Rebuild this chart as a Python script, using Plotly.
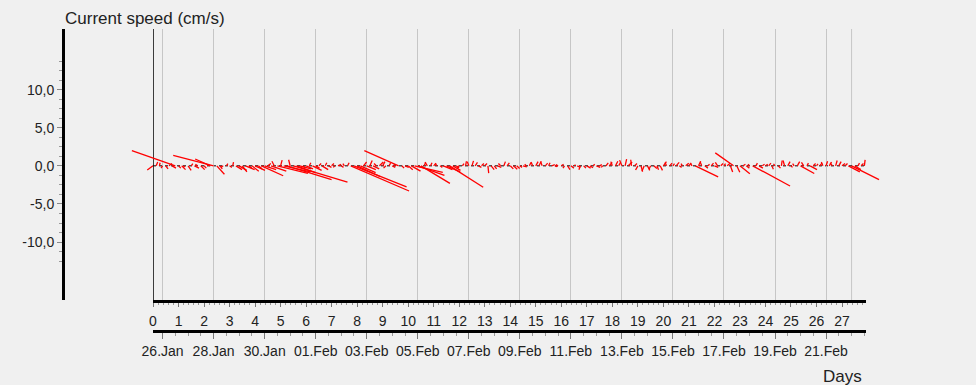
import plotly.graph_objects as go
from datetime import datetime, timedelta

# ---------------------------------------------------------------------------
# Current meter record: 3-hourly east / north components (cm/s)
# ---------------------------------------------------------------------------
START = datetime(2021, 1, 25, 15, 0)      # day 0 of the record
SAMPLE_HOURS = 3

EAST = [
    # day 0
    -0.75, 0.2, 0.1, -0.2, 0.3, 0.4, 0.5, -5.7,
    # day 1
    0.3, 0.5, -0.2, 0.4, 0.2, 0.6, -0.3, 0.5,
    # day 2
    0.3, 0.2, -2.0, -5.3, 1.0, 0.3, -0.3, 0.2,
    # day 3
    0.3, 0.1, 0.8, 1.0, 0.6, 1.2, 0.4, 0.9,
    # day 4
    1.3, 0.5, 2.85, 1.5, 0.4, 2.0, -0.3, 4.0,
    # day 5
    0.2, 3.5, 5.85, -0.2, 7.1, 2.5, 1.5, 0.3,
    # day 6
    0.9, 0.2, 1.2, 0.5, 0.3, 0.8, 0.2, 0.4,
    # day 7
    0.3, -0.2, 0.4, 0.3, -0.2, 0.2, 7.65, 6.9,
    # day 8
    3.0, 2.0, 0.4, 1.2, 0.3, 0.8, -0.3, 0.5,
    # day 9
    0.3, -0.3, 0.2, 0.4, -0.2, -4.5, 0.3, 0.5,
    # day 10
    0.6, 1.2, 3.7, 3.5, 3.8, 0.2, -0.3, 0.2,
    # day 11
    0.3, -0.2, 0.3, 1.2, 1.8, 4.4, 1.0, 0.4,
    # day 12
    -0.3, 0.2, 0.1, -0.2, 0.2, 0.3, 0.4, 0.3,
    # day 13
    0.3, 0.1, 0.4, 0.3, 0.5, -0.3, 0.2, 0.3,
    # day 14
    0.4, 0.5, 0.4, 0.3, 0.5, -0.2, 0.2, -0.2,
    # day 15
    0.3, 0.3, -0.2, 0.3, 0.2, 0.4, 0.3, -0.3,
    # day 16
    0.3, -0.2, 0.3, 0.4, 0.2, 0.4, -0.2, 0.3,
    # day 17
    0.5, 0.4, 0.2, 0.5, 0.3, -0.2, 0.3, 0.4,
    # day 18
    -0.2, 0.3, 0.2, -0.3, 0.2, 0.5, -0.1, 0.3,
    # day 19
    -0.3, 0.2, -0.3, 0.3, -0.2, 0.4, 0.2, 0.3,
    # day 20
    0.4, -0.2, 0.3, 0.2, 0.4, 0.3, -0.2, 0.4,
    # day 21
    0.3, -0.2, 3.0, 0.3, -0.2, 0.4, 0.2, 0.3,
    # day 22
    0.5, -0.3, 0.3, 0.2, 0.4, 0.3, -2.4, 0.4,
    # day 23
    1.3, 0.3, 0.4, -0.2, 4.9, 0.2, 0.5, 0.3,
    # day 24
    0.3, 0.3, 0.2, -0.2, 0.3, 0.1, -0.2, 0.3,
    # day 25
    0.2, -0.2, 0.3, 1.8, -0.3, 0.2, 0.9, 0.3,
    # day 26
    0.2, 0.3, -0.2, 0.2, 0.3, -0.3, 0.2, 0.3,
    # day 27
    0.4, 0.3, 1.5, 3.6, 0.8, 0.2, 0.3, 0.1,
]

NORTH = [
    # day 0
    -0.55, 0.5, 0.4, -0.3, -0.4, 0.3, -0.3, 2.0,
    # day 1
    -0.3, -0.5, -0.2, -0.6, 0.3, -0.3, 0.2, -0.5,
    # day 2
    -0.3, 0.2, 0.9, 1.36, -1.1, -0.4, -0.2, 0.3,
    # day 3
    -0.2, 0.5, -0.5, -0.6, -0.8, -0.5, -0.3, -0.7,
    # day 4
    -0.6, -0.4, -1.3, -0.5, 0.3, -0.7, 0.6, -1.0,
    # day 5
    0.75, -0.8, -1.8, 0.8, -2.15, -0.9, -0.4, -0.3,
    # day 6
    -0.4, 0.4, -0.6, -0.3, 0.3, -0.5, 0.4, -0.2,
    # day 7
    0.3, -0.2, 0.2, -0.2, 0.3, 0.4, -3.3, -2.75,
    # day 8
    -1.4, -0.9, 0.5, -0.5, 0.7, -0.4, 0.3, 0.5,
    # day 9
    0.55, -0.3, 0.35, -0.2, 0.2, 2.0, -0.3, -0.2,
    # day 10
    -0.5, -0.7, -0.85, -1.25, -2.3, 0.45, 0.5, 0.4,
    # day 11
    0.35, 0.3, -0.2, -0.5, -0.8, -2.8, -0.6, -0.3,
    # day 12
    -0.2, 0.3, 0.6, 0.55, 0.65, 0.45, -0.2, 0.3,
    # day 13
    0.3, -0.95, -0.5, -0.4, -0.2, 0.3, 0.55, 0.4,
    # day 14
    -0.4, -0.45, -0.35, -0.2, -0.15, 0.2, 0.45, 0.5,
    # day 15
    0.55, 0.6, 0.55, 0.35, 0.4, 0.15, -0.1, 0.15,
    # day 16
    0.2, -0.3, -0.5, -0.3, 0.15, -0.2, -0.5, -0.3,
    # day 17
    -0.3, -0.25, 0.2, -0.2, 0.15, -0.2, 0.4, 0.45,
    # day 18
    0.55, 0.6, 0.4, 0.75, 0.87, 0.5, 0.8, 0.3,
    # day 19
    -0.55, -0.75, -0.7, -0.6, -0.45, -0.35, -0.5, -0.6,
    # day 20
    0.55, 0.45, 0.35, 0.3, 0.45, -0.2, 0.3, 0.35,
    # day 21
    0.4, 0.3, -1.45, 0.6, 0.55, -0.3, 0.2, 0.35,
    # day 22
    -0.2, 0.45, 0.3, 0.3, 0.35, -0.8, 1.7, -0.85,
    # day 23
    -1.05, 0.2, -0.3, 0.2, -2.65, 0.35, -0.3, 0.2,
    # day 24
    0.2, 0.35, -0.45, 0.25, -0.3, 0.7, 0.7, 0.55,
    # day 25
    -0.2, 0.3, 0.55, -1.0, 0.45, 0.35, -0.5, 0.3,
    # day 26
    0.25, 0.35, 0.5, 0.6, 0.5, 0.4, 0.7, 0.55,
    # day 27
    0.3, 0.3, -0.8, -1.8, -0.5, 0.35, 0.3, 0.78,
]

Y_TICKS = [-10, -5, 0, 5, 10]
Y_TICK_TEXT = ["-10,0", "-5,0", "0,0", "5,0", "10,0"]
Y_MINOR = [i * 1.25 for i in range(-10, 12)]

# ---------------------------------------------------------------------------
# Layout geometry
# ---------------------------------------------------------------------------
W, H = 976, 385
PLOT_L, PLOT_R = 153, 866          # horizontal extent of the day axis (px)
PLOT_T, PLOT_B = 29, 300           # vertical extent of the speed axis (px)
DAY_MAX = 27.94
Y_RANGE = [-17.6, 17.95]
FONT = "Liberation Sans, Arial, sans-serif"
BG = "#f0f0f0"
CLEAR = "rgba(0,0,0,0)"

px_per_day = (PLOT_R - PLOT_L) / DAY_MAX
px_per_unit = (PLOT_B - PLOT_T) / (Y_RANGE[1] - Y_RANGE[0])
days_per_unit = px_per_unit / px_per_day   # keeps sticks isotropic

times = [k * SAMPLE_HOURS / 24 for k in range(len(EAST))]
dates = [START + timedelta(days=t) for t in times]

# stick segments: base on the zero line, tip at (east, north)
sx, sy = [], []
for t, u, v in zip(times, EAST, NORTH):
    sx += [t, t + u * days_per_unit, None]
    sy += [0, v, None]

# wide, hidden axis for the sticks so they are not clipped at the axis ends
ST_L, ST_R = 100, 910

fig = go.Figure()
fig.add_trace(go.Scatter(
    x=dates, y=[0] * len(dates), xaxis="x2", yaxis="y",
    mode="lines", line=dict(width=0, color=CLEAR),
    hoverinfo="skip", showlegend=False,
))
fig.add_trace(go.Scatter(
    x=sx, y=sy, xaxis="x3", yaxis="y",
    mode="lines", line=dict(color="#ff0000", width=1.3),
    hoverinfo="skip", showlegend=False,
))

tick_font = dict(family=FONT, size=14, color="#222")

fig.update_layout(
    width=W, height=H,
    margin=dict(l=0, r=0, t=0, b=0, autoexpand=False),
    paper_bgcolor=BG, plot_bgcolor=CLEAR,
    font=dict(family=FONT, size=14, color="#222"),
    showlegend=False,
    xaxis=dict(
        domain=[PLOT_L / W, PLOT_R / W], range=[0, DAY_MAX],
        anchor="y", side="bottom", automargin=False,
        showline=True, linecolor="black", linewidth=2.5,
        ticks="outside", tickmode="linear", tick0=0, dtick=1,
        ticklen=4, tickwidth=1, tickcolor="#777", ticklabelstandoff=2,
        minor=dict(ticks="outside", dtick=0.2, ticklen=2.5, tickcolor="#999"),
        showgrid=False, zeroline=False, tickfont=tick_font,
    ),
    xaxis2=dict(
        overlaying="x", anchor="free", position=1 - 331 / H, side="bottom",
        type="date", automargin=False,
        range=[START, START + timedelta(days=DAY_MAX)],
        tick0="2021-01-26", dtick=2 * 86400000, tickformat="%d.%b",
        showline=True, linecolor="black", linewidth=2.5,
        ticks="outside", ticklen=6, tickwidth=1, tickcolor="#777",
        minor=dict(ticks="outside", dtick=43200000, ticklen=3,
                   tickcolor="#999", showgrid=False),
        showgrid=True, gridcolor="#c6c6c6", gridwidth=1,
        zeroline=False, tickfont=tick_font,
    ),
    xaxis3=dict(
        domain=[ST_L / W, ST_R / W],
        range=[(ST_L - PLOT_L) / px_per_day, (ST_R - PLOT_L) / px_per_day],
        anchor="y", visible=False, showgrid=False, zeroline=False,
        automargin=False,
    ),
    yaxis=dict(
        domain=[1 - PLOT_B / H, 1 - PLOT_T / H], range=Y_RANGE,
        anchor="free", position=63 / W, automargin=False,
        showline=True, linecolor="black", linewidth=3,
        ticks="outside", tickvals=Y_TICKS, ticktext=Y_TICK_TEXT,
        ticklen=5, tickwidth=1, tickcolor="#888",
        minor=dict(ticks="outside", tickvals=Y_MINOR, ticklen=3,
                   tickcolor="#999"),
        showgrid=False, zeroline=False, tickfont=tick_font,
    ),
    shapes=[
        # zero line of the stick plot
        dict(type="line", xref="x", yref="y", x0=0, x1=DAY_MAX, y0=0, y1=0,
             line=dict(color="black", width=1, dash="dot"), layer="below"),
        # start of the record
        dict(type="line", xref="x", yref="y domain", x0=0, x1=0, y0=0, y1=1,
             line=dict(color="black", width=1.5), layer="below"),
        # last day of the record
        dict(type="line", xref="x2", yref="y domain",
             x0="2021-02-22", x1="2021-02-22", y0=0, y1=1,
             line=dict(color="#c6c6c6", width=1), layer="below"),
    ],
    annotations=[
        dict(text="Current speed (cm/s)", xref="paper", yref="paper",
             x=145 / W, y=1 - 18 / H, xanchor="center", yanchor="middle",
             showarrow=False, font=dict(family=FONT, size=17, color="#222")),
        dict(text="Days", xref="paper", yref="paper",
             x=864 / W, y=1 - 376 / H, xanchor="right", yanchor="middle",
             showarrow=False, font=dict(family=FONT, size=17, color="#222")),
    ],
)

fig.write_html("out.html")
